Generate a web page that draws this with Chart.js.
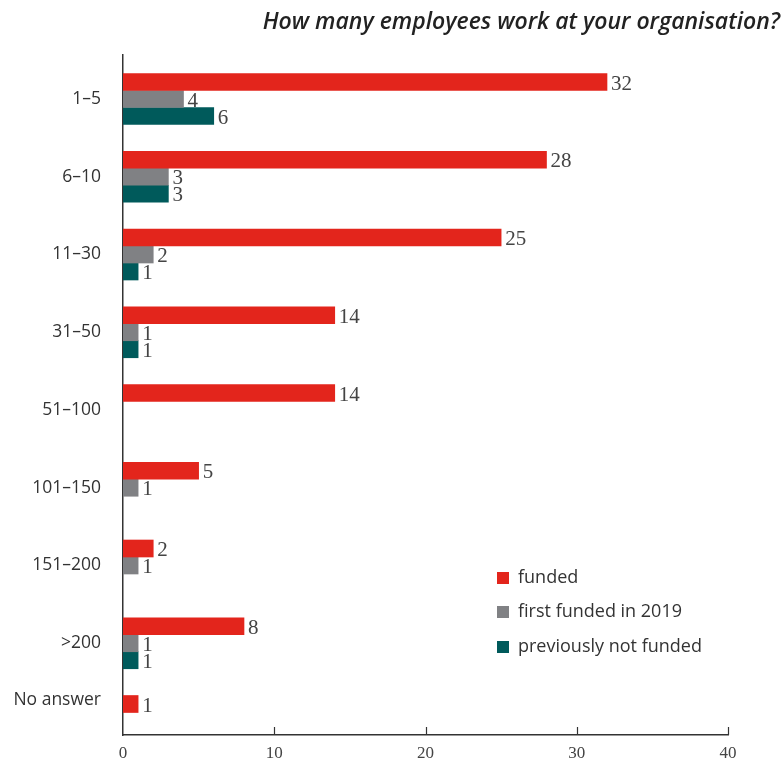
<!DOCTYPE html>
<html>
<head>
<meta charset="utf-8">
<script src="https://cdn.jsdelivr.net/npm/chart.js@4"></script>
<style>
  html, body { margin: 0; padding: 0; background: #fff; }
  #wrap { width: 784px; height: 762px; position: relative; }
</style>
</head>
<body>
<div id="wrap"><canvas id="myChart" width="784" height="762"></canvas></div>
<script>
const titulo = 'How many employees work at your organisation?';
const categorias = ['1–5', '6–10', '11–30', '31–50', '51–100', '101–150', '151–200', '>200', 'No answer'];
const funded = [32, 28, 25, 14, 14, 5, 2, 8, 1];
const firstFunded = [4, 3, 2, 1, null, 1, 1, 1, null];
const notFunded = [6, 3, 1, 1, null, null, null, 1, null];
const xTicks = [0, 10, 20, 30, 40];

const colores = ['#e3251c', '#808184', '#005a5b'];
const nombres = ['funded', 'first funded in 2019', 'previously not funded'];

function toPoints(arr) {
    return arr.map((v, i) => ({ x: v, y: i }));
}

// title, value labels, inner ticks and legend
const extras = {
    id: 'extras',
    afterDatasetsDraw(chart) {
        const ctx = chart.ctx;
        ctx.save();
        // value labels
        ctx.font = '21px "Liberation Serif", serif';
        ctx.fillStyle = '#444';
        ctx.textAlign = 'left';
        ctx.textBaseline = 'middle';
        chart.data.datasets.forEach((ds, d) => {
            chart.getDatasetMeta(d).data.forEach((el, i) => {
                const v = ds.data[i].x;
                if (v === null) return;
                ctx.fillText(String(v), el.x + 4, el.y + 2);
            });
        });
        // small ticks pointing up from x axis
        const xs = chart.scales.x;
        ctx.strokeStyle = '#333';
        ctx.lineWidth = 1.2;
        xTicks.slice(1).forEach(t => {
            const px = Math.round(xs.getPixelForValue(t)) + 0.5;
            ctx.beginPath();
            ctx.moveTo(px, chart.chartArea.bottom);
            ctx.lineTo(px, chart.chartArea.bottom - 8);
            ctx.stroke();
        });
        // title
        ctx.font = 'italic 600 23px "Open Sans", sans-serif';
        ctx.fillStyle = '#222';
        ctx.textAlign = 'right';
        ctx.textBaseline = 'alphabetic';
        ctx.fillText(titulo, 780, 29);
        // legend
        ctx.font = '18px "Open Sans", sans-serif';
        ctx.textAlign = 'left';
        ctx.textBaseline = 'middle';
        const ly = [578, 612, 647];
        chart.data.datasets.forEach((ds, d) => {
            ctx.fillStyle = ds.backgroundColor;
            ctx.fillRect(497, ly[d] - 6, 12, 12);
            ctx.fillStyle = '#333';
            ctx.fillText(ds.label, 518, ly[d]);
        });
        ctx.restore();
    }
};

const ctx = document.getElementById('myChart');
new Chart(ctx, {
    type: 'bar',
    data: {
        datasets: [
            { label: nombres[0], data: toPoints(funded), backgroundColor: colores[0] },
            { label: nombres[1], data: toPoints(firstFunded), backgroundColor: colores[1] },
            { label: nombres[2], data: toPoints(notFunded), backgroundColor: colores[2] }
        ]
    },
    options: {
        indexAxis: 'y',
        responsive: false,
        animation: false,
        barThickness: 17,
        layout: { padding: { top: 55, right: 56, bottom: 0, left: 0 } },
        plugins: {
            legend: { display: false },
            tooltip: { enabled: false }
        },
        scales: {
            x: {
                type: 'linear',
                min: 0,
                max: 40,
                afterBuildTicks: axis => { axis.ticks = xTicks.map(v => ({ value: v })); },
                afterFit: s => { s.height = 27; s.paddingLeft = 0; s.paddingRight = 0; },
                grid: { display: false, drawTicks: false },
                border: { display: true, color: '#333', width: 1.5 },
                ticks: {
                    padding: 8,
                    color: '#444',
                    font: { family: '"Liberation Serif", serif', size: 17 }
                }
            },
            y: {
                type: 'linear',
                reverse: true,
                offset: false,
                bounds: 'data',
                min: -0.566,
                max: 8.18,
                afterBuildTicks: axis => { axis.ticks = categorias.map((c, i) => ({ value: i })); },
                afterFit: s => { s.width = 123; s.paddingTop = 0; s.paddingBottom = 0; },
                grid: { display: false, drawTicks: false, offset: false },
                border: { display: true, color: '#333', width: 1.5 },
                ticks: {
                    padding: 22,
                    color: '#333',
                    font: { family: '"Open Sans", sans-serif', size: 17.5 },
                    callback: v => {
                        const c = categorias[v];
                        if (c === 'No answer') return [c, '', ''];
                        return c;
                    }
                }
            }
        }
    },
    plugins: [extras]
});
</script>
</body>
</html>
